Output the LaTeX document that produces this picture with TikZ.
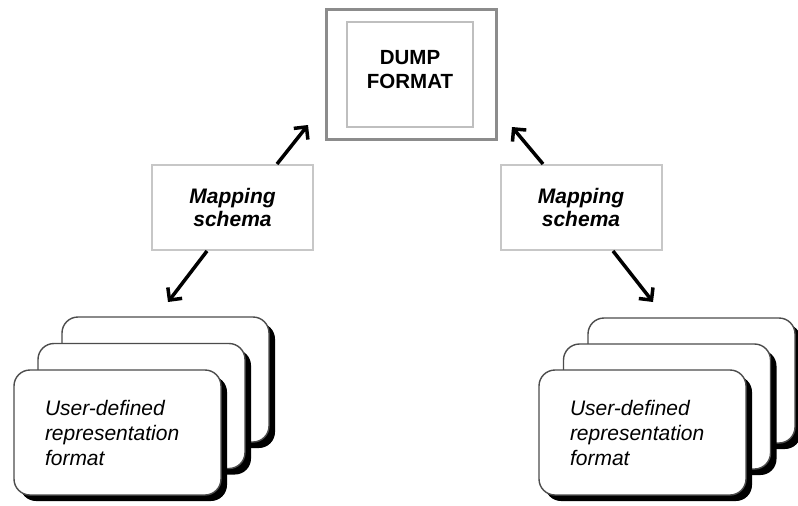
\documentclass[tikz,border=0pt]{standalone}
\usepackage{fontspec}
\setmainfont{Liberation Sans}
\usetikzlibrary{positioning, arrows.meta, shadows}
\tikzstyle{arrow} = [line width=3.5pt,-{Straight Barb[length=9pt,width=18pt]}]
\tikzstyle{mapbox} = [draw=black!22, line width=2pt, minimum width=161pt, minimum height=85pt, align=center, font=\fontsize{21}{23.5}\selectfont\bfseries\itshape]
\tikzstyle{card} = [draw=black!70, line width=1.4pt, fill=white, rounded corners=16pt, minimum width=207pt, minimum height=125pt, drop shadow={shadow xshift=6pt, shadow yshift=-6pt, fill=black, opacity=1}]
\tikzstyle{cardtext} = [align=left, text width=145pt, font=\fontsize{21}{25}\selectfont\itshape]

\begin{document}
\begin{tikzpicture}[x=1pt, y=-1pt]
        \useasboundingbox (0, 0) rectangle (798, 506);
        \node[draw=black!45, line width=3pt, minimum width=170pt, minimum height=130pt] (dump) at (411, 74) {};
        \node[draw=black!25, line width=1.5pt, minimum width=126pt, minimum height=105pt] (dumpin) at (410, 74.5) {};
        \node[align=center, font=\fontsize{20.5}{24}\selectfont\bfseries] (dumptext) at (410, 70) {DUMP\\FORMAT};
        \node[mapbox] (mapL) at (232.5, 207.5) {Mapping\\schema};
        \node[mapbox] (mapR) at (581, 207.5) {Mapping\\schema};
        \foreach \d in {2, 1, 0} {
            \node[card] (cardL\d) at ({117.5 + 24*\d}, {432.5 - 26.5*\d}) {};
            \node[card] (cardR\d) at ({642.5 + 24.5*\d}, {432.5 - 26*\d}) {};
        }
        \node[cardtext] (textL) at (cardL0) {User-defined\\representation\\format};
        \node[cardtext] (textR) at (cardR0) {User-defined\\representation\\format};
        \coordinate (tipUL) at (308, 125);
        \coordinate (tipUR) at (512, 127);
        \coordinate (tipDL) at (168, 302);
        \coordinate (tipDR) at (653, 302);
        \draw[arrow] ([xshift=44.5pt]mapL.north) -- (tipUL);
        \draw[arrow] ([xshift=-25.5pt]mapL.south) -- (tipDL);
        \draw[arrow] ([xshift=-38pt]mapR.north) -- (tipUR);
        \draw[arrow] ([xshift=32pt]mapR.south) -- (tipDR);
\end{tikzpicture}
\end{document}
